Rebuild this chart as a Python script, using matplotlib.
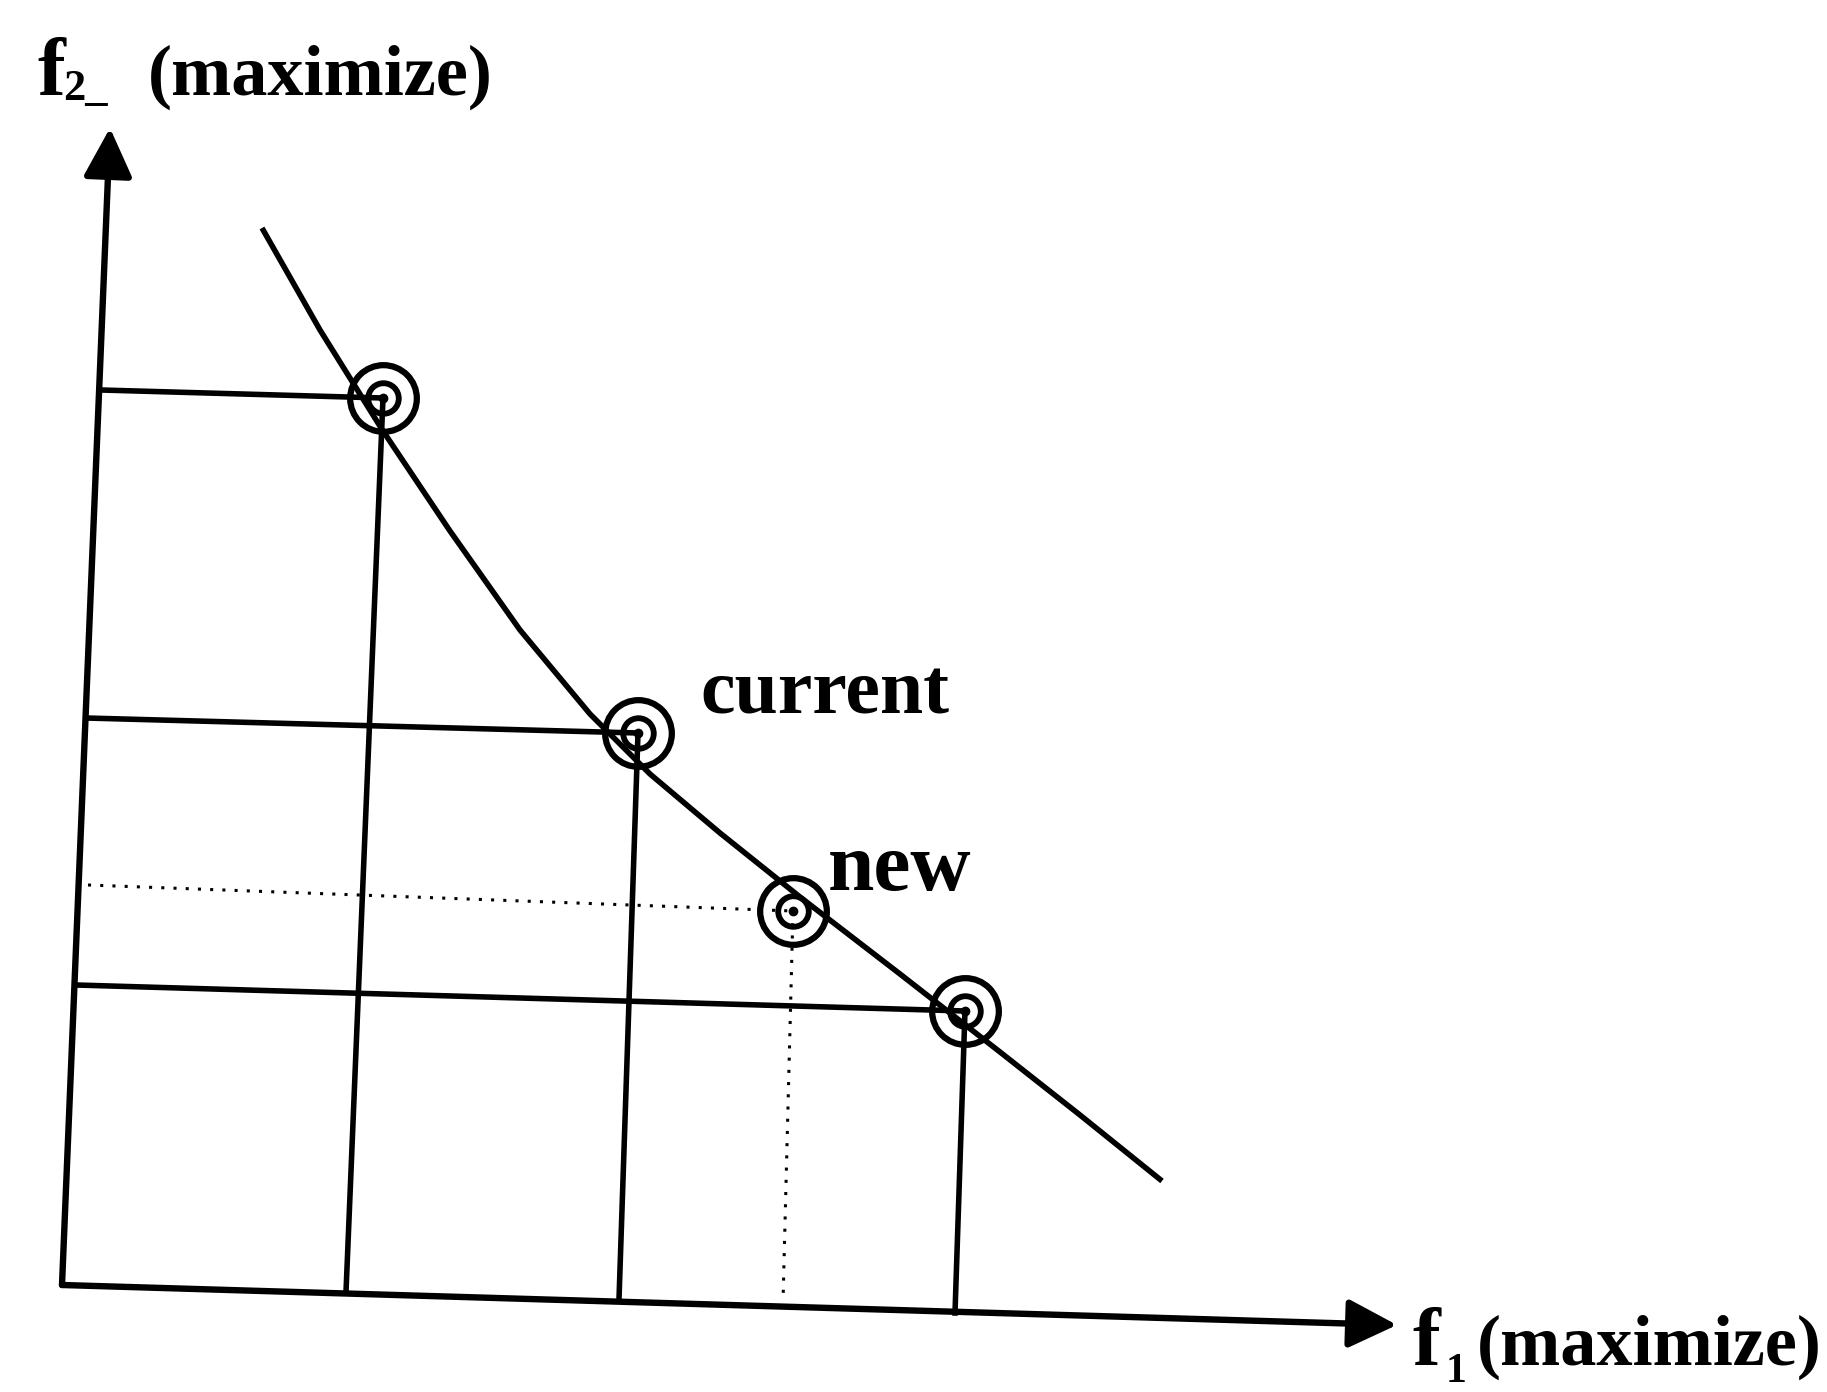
import matplotlib
matplotlib.use("Agg")
import matplotlib.pyplot as plt

# picture coordinates (pixels, y downward)
origin = (62, 1285)
x_tip = (1397, 1325)
y_tip = (110, 128)

# trade-off curve
curve_x = [262, 320, 383, 450, 520, 590, 650, 720, 800, 900, 1000, 1080, 1162]
curve_y = [228, 330, 431, 531, 630, 714, 774, 833, 897, 974, 1052, 1115, 1181]

# solutions on the front: first, current, new, last
pts_x = [383, 638, 793, 965]
pts_y = [398, 733, 911, 1011]
dotted = [False, False, True, False]

# where the projection lines meet the f2 axis and the f1 axis
h_x = [101, 86, 88, 76]
h_y = [390, 718, 885, 985]
v_x = [346, 619, 783, 955]
v_y = [1292, 1299, 1302, 1313]

fig = plt.figure(figsize=(18.27, 13.92), dpi=100)
ax = fig.add_axes([0, 0, 1, 1])
ax.set_xlim(0, 1827)
ax.set_ylim(1392, 0)
ax.axis('off')

lw = 4.0
arrow = dict(arrowstyle='-|>,head_length=0.4,head_width=0.2', mutation_scale=75,
             lw=4.6, color='black', shrinkA=0, shrinkB=0)
ax.annotate('', xy=x_tip, xytext=origin, arrowprops=arrow)
ax.annotate('', xy=y_tip, xytext=origin, arrowprops=arrow)

ax.plot(curve_x, curve_y, color='black', lw=lw, solid_capstyle='butt',
        solid_joinstyle='round')

for i in range(len(pts_x)):
    if dotted[i]:
        kw = dict(color='black', lw=2.2, ls=(0, (1, 3)))
    else:
        kw = dict(color='black', lw=lw)
    ax.plot([h_x[i], pts_x[i]], [h_y[i], pts_y[i]], **kw)
    ax.plot([pts_x[i], v_x[i]], [pts_y[i], v_y[i]], **kw)

# double-ring markers
ax.plot(pts_x, pts_y, 'o', ms=48, mfc='none', mec='black', mew=4.5, zorder=5)
ax.plot(pts_x, pts_y, 'o', ms=22, mfc='none', mec='black', mew=4.2, zorder=5)
ax.plot(pts_x, pts_y, 'o', ms=6, mfc='black', mec='black', zorder=5)

font = dict(family='Liberation Serif', weight='bold', color='black',
            ha='left', va='baseline')
ax.text(37, 95, 'f', fontsize=60, **font)
ax.text(63, 100, '2_', fontsize=32, **font)
ax.text(148, 95, '(maximize)', fontsize=52, **font)

ax.text(1412, 1365, 'f', fontsize=60, **font)
ax.text(1446, 1382, '1', fontsize=30, **font)
ax.text(1477, 1365, '(maximize)', fontsize=52, **font)

ax.text(700, 713, 'current', fontsize=56, **font)
ax.text(828, 890, 'new', fontsize=60, **font)

fig.savefig('out.png', dpi=100)
